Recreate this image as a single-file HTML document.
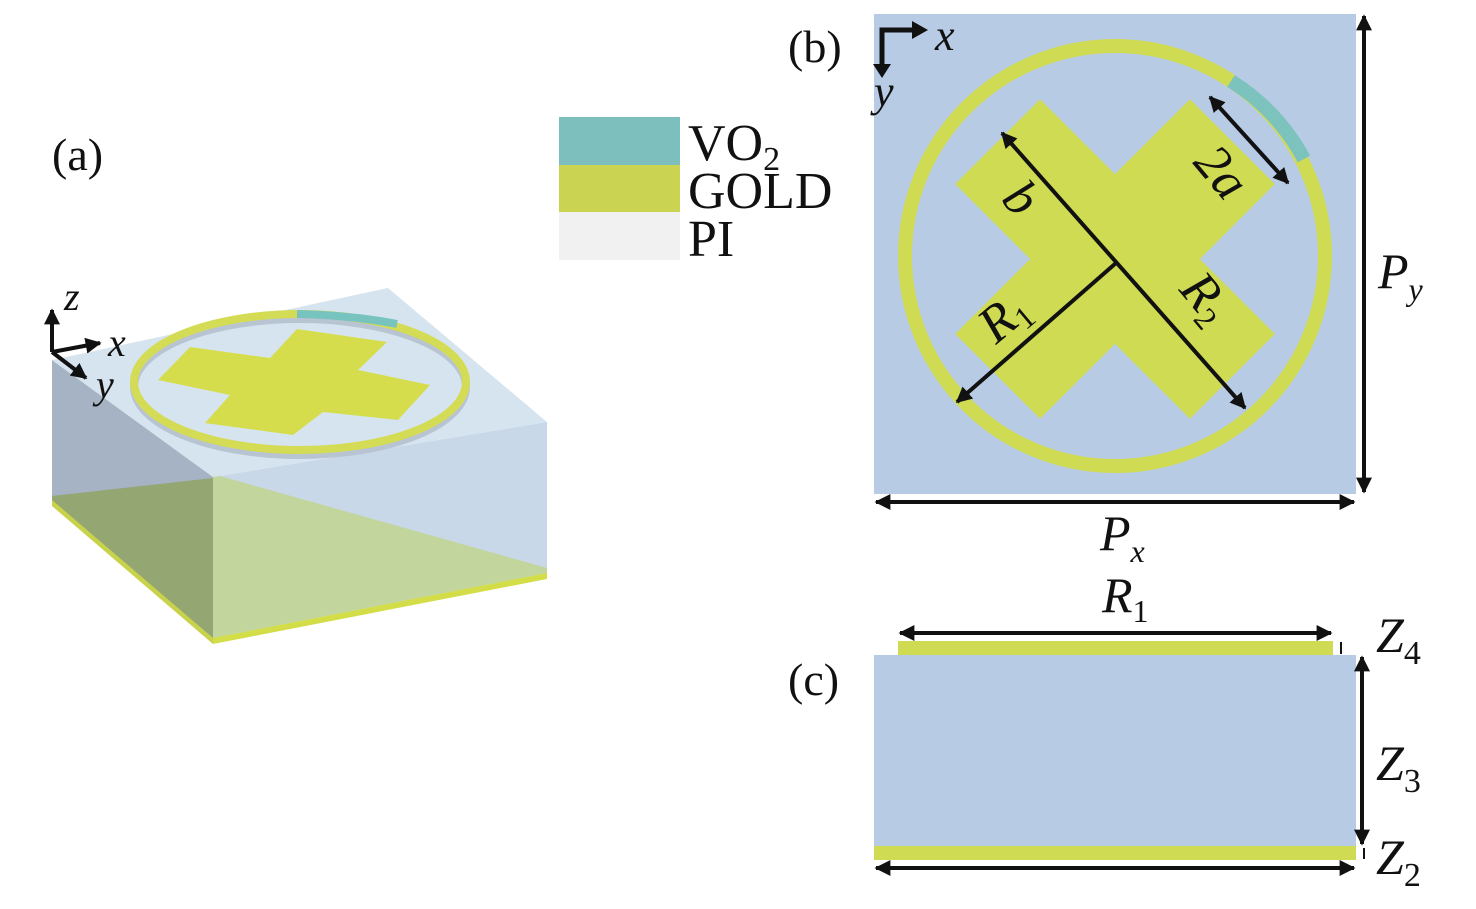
<!DOCTYPE html>
<html><head><meta charset="utf-8"><style>
html,body{margin:0;padding:0;background:#fff}
svg{display:block}
text{font-family:"Liberation Serif",serif;fill:#111}
.i{font-style:italic}
</style></head><body>
<svg width="1476" height="909" viewBox="0 0 1476 909" xmlns="http://www.w3.org/2000/svg">
<defs>
<marker id="ah" viewBox="0 0 10 10" refX="9" refY="5" markerWidth="4" markerHeight="4" orient="auto-start-reverse"><path d="M0,0 L10,5 L0,10 z" fill="#111"/></marker>
</defs>

<text x="52" y="170" font-size="46">(a)</text>

<rect x="559" y="117" width="121" height="48" fill="#7cbfbd"/>
<rect x="559" y="165" width="121" height="47" fill="#cad452"/>
<rect x="559" y="212" width="121" height="48" fill="#f1f1f1"/>
<text x="688" y="160" font-size="52">VO<tspan font-size="34" dy="10">2</tspan></text>
<text x="688" y="208" font-size="52">GOLD</text>
<text x="688" y="256" font-size="52">PI</text>

<polygon points="52,360 213,477 213,638 52,500" fill="#a6b3c4"/>
<polygon points="52,496 213,478 213,638 52,502" fill="#94a672"/>
<polygon points="213,477 547,422 547,573 213,638" fill="#c9d8e9"/>
<polygon points="213,474 547,568 547,573 213,638" fill="#c2d59d"/>
<polygon points="52,360 388,288 547,422 213,477" fill="#d6e4f0"/>
<polygon points="52,500 213,638 213,644 52,506" fill="#c8d24a"/>
<polygon points="213,638 547,573 547,579 213,644" fill="#d3dd48"/>
<ellipse cx="300" cy="387" rx="166" ry="68" fill="none" stroke="#b8c4d2" stroke-width="8"/>
<ellipse cx="300" cy="382" rx="166" ry="68" fill="none" stroke="#d4dc55" stroke-width="8"/>
<path d="M297,314 Q350,315 397,324" fill="none" stroke="#76c3bf" stroke-width="8"/>
<polygon points="190,347 270,358 297,329 387,342 358,370 430,385 398,420 323,412 293,435 205,423 230,395 158,380" fill="#d5dd4c"/>

<g stroke="#111" stroke-width="4" fill="none">
<line x1="52" y1="352" x2="52" y2="310" marker-end="url(#ah)"/>
<line x1="52" y1="352" x2="100" y2="343" marker-end="url(#ah)"/>
<line x1="52" y1="352" x2="86" y2="378" marker-end="url(#ah)"/>
</g>
<text x="64" y="310" font-size="40" class="i">z</text>
<text x="108" y="356" font-size="40" class="i">x</text>
<text x="96" y="398" font-size="40" class="i">y</text>

<text x="788" y="62" font-size="46">(b)</text>
<rect x="874" y="14" width="482" height="480" fill="#b7cbe4"/>
<circle cx="1115" cy="256" r="210" fill="none" stroke="#cfdb52" stroke-width="14"/>
<path d="M1231,81 A210,210 0 0 1 1304,159" fill="none" stroke="#7cc3bd" stroke-width="14"/>
<g transform="translate(1115,259) rotate(45)">
<polygon points="-60,-166 60,-166 60,-60 166,-60 166,60 60,60 60,166 -60,166 -60,60 -166,60 -166,-60 -60,-60" fill="#cfdb52"/>
</g>
<g stroke="#111" stroke-width="4" fill="none">
<line x1="1002" y1="133" x2="1245" y2="408" marker-start="url(#ah)" marker-end="url(#ah)"/>
<line x1="1116" y1="263" x2="957" y2="402" marker-end="url(#ah)"/>
<line x1="1210" y1="97" x2="1288" y2="183" marker-start="url(#ah)" marker-end="url(#ah)"/>
<line x1="1364" y1="16" x2="1364" y2="492" marker-start="url(#ah)" marker-end="url(#ah)"/>
<line x1="876" y1="502" x2="1354" y2="502" marker-start="url(#ah)" marker-end="url(#ah)"/>
<polyline points="915,30 882,30 882,68" stroke-width="5"/>
</g>
<path d="M912,21 L928,30 L912,39 z" fill="#111"/>
<path d="M873,64 L882,78 L891,64 z" fill="#111"/>
<text x="935" y="50" font-size="44" class="i">x</text>
<text x="874" y="106" font-size="44" class="i">y</text>
<text x="0" y="0" font-size="52" class="i" transform="translate(1192,163) rotate(50)">2a</text>
<text x="0" y="0" font-size="52" class="i" transform="translate(1000,200) rotate(48)">b</text>
<text x="0" y="0" font-size="52" class="i" transform="translate(996,345) rotate(-40)">R<tspan font-size="32" font-style="normal" dy="8">1</tspan></text>
<text x="0" y="0" font-size="52" class="i" transform="translate(1178,290) rotate(50)">R<tspan font-size="32" font-style="normal" dy="8">2</tspan></text>
<text x="1378" y="288" font-size="50" class="i">P<tspan font-size="32" dy="12">y</tspan></text>
<text x="1100" y="550" font-size="50" class="i">P<tspan font-size="32" dy="12">x</tspan></text>

<text x="788" y="695" font-size="46">(c)</text>
<rect x="898" y="641" width="435" height="15" fill="#cfdb52"/>
<rect x="874" y="655" width="482" height="192" fill="#b7cbe4"/>
<rect x="874" y="846" width="482" height="14" fill="#cfdb52"/>
<g stroke="#111" stroke-width="4" fill="none">
<line x1="900" y1="633" x2="1331" y2="633" marker-start="url(#ah)" marker-end="url(#ah)"/>
<line x1="876" y1="868" x2="1354" y2="868" marker-start="url(#ah)" marker-end="url(#ah)"/>
<line x1="1362" y1="657" x2="1362" y2="844" marker-start="url(#ah)" marker-end="url(#ah)"/>
<line x1="1341" y1="642" x2="1341" y2="654" stroke-width="2"/>
<line x1="1364" y1="848" x2="1364" y2="859" stroke-width="2"/>
</g>
<text x="1102" y="612" font-size="50" class="i">R<tspan font-size="32" font-style="normal" dy="10">1</tspan></text>
<text x="1376" y="652" font-size="50" class="i">Z<tspan font-size="34" font-style="normal" dy="12">4</tspan></text>
<text x="1376" y="780" font-size="50" class="i">Z<tspan font-size="34" font-style="normal" dy="12">3</tspan></text>
<text x="1376" y="874" font-size="50" class="i">Z<tspan font-size="34" font-style="normal" dy="12">2</tspan></text>
</svg>
</body></html>
